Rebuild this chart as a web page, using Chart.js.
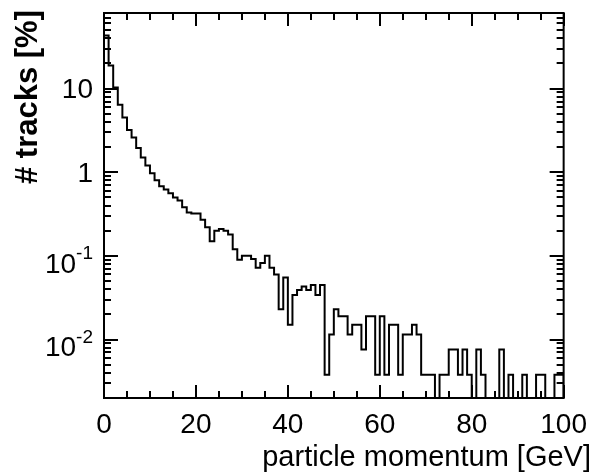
<!DOCTYPE html>
<html>
<head>
<meta charset="utf-8">
<script src="https://cdn.jsdelivr.net/npm/chart.js@4.4.1/dist/chart.umd.min.js"></script>
<style>
  html, body { margin: 0; padding: 0; background: #fff; }
</style>
</head>
<body>
<canvas id="histo" width="597" height="474"></canvas>
<script>
// momentum spectrum of tracks, 1 GeV bins, share of tracks in percent
const binLow = [
   0,  1,  2,  3,  4,  5,  6,  7,  8,  9, 10, 11, 12, 13, 14, 15, 16, 17, 18, 19,
  20, 21, 22, 23, 24, 25, 26, 27, 28, 29, 30, 31, 32, 33, 34, 35, 36, 37, 38, 39,
  40, 41, 42, 43, 44, 45, 46, 47, 48, 49, 50, 51, 52, 53, 54, 55, 56, 57, 58, 59,
  60, 61, 62, 63, 64, 65, 66, 67, 68, 69, 70, 71, 72, 73, 74, 75, 76, 77, 78, 79,
  80, 81, 82, 83, 84, 85, 86, 87, 88, 89, 90, 91, 92, 93, 94, 95, 96, 97, 98, 99
];
const lastEdge = 100;

const tracks = [
  43, 18.8, 10.3, 6.4, 4.5, 3.2, 2.6, 1.95, 1.5, 1.2,
  0.97, 0.8, 0.68, 0.62, 0.56, 0.5, 0.46, 0.38, 0.33, 0.32,
  0.32, 0.27, 0.22, 0.15, 0.2, 0.21, 0.2, 0.18, 0.12, 0.09,
  0.1, 0.1, 0.092, 0.072, 0.082, 0.1, 0.072, 0.06, 0.023, 0.055,
  0.015, 0.034, 0.039, 0.043, 0.039, 0.045, 0.034, 0.045, 0.0038, 0.0115,
  0.023, 0.019, 0.019, 0.0115, 0.015, 0.015, 0.0076, 0.019, 0.019, 0.0038,
  0.019, 0.0038, 0.015, 0.015, 0.0038, 0.0115, 0.0115, 0.015, 0.0115, 0.0038,
  0.0038, 0.0038, 0, 0.0038, 0.0038, 0.0076, 0.0076, 0.0038, 0.0076, 0.0038,
  0, 0.0076, 0.0038, 0, 0, 0, 0.0076, 0, 0.0038, 0,
  0, 0.0038, 0, 0, 0.0038, 0.0038, 0, 0, 0.0038, 0.0038
];

const xTicks = [0, 20, 40, 60, 80, 100];
const yTicks = [10, 1, 0.1, 0.01];
const yTickLabels = ['10', '1', '10^-1', '10^-2'];
const yMin = 0.002;
const yMax = 80;

const FONT = "'Liberation Sans', Arial, Helvetica, sans-serif";

// log axis can't take 0, so empty bins go below the frame and get clipped
const floorVal = yMin / 10;
const val = (v) => (v > 0 ? v : floorVal);

// histogram outline: start at bottom of first edge, hold each bin value until the next edge
const points = [{ x: binLow[0], y: floorVal }];
binLow.forEach((lo, i) => points.push({ x: lo, y: val(tracks[i]) }));
points.push({ x: lastEdge, y: val(tracks[tracks.length - 1]) });
points.push({ x: lastEdge, y: floorVal });

const frameAndLabels = {
  id: 'frameAndLabels',
  afterDatasetsDraw(chart) {
    const { ctx, chartArea: a, scales: { x, y } } = chart;
    ctx.save();
    ctx.strokeStyle = '#000';
    ctx.lineWidth = 2;
    ctx.beginPath();
    // x ticks, inside, bottom and top
    for (let v = x.min; v <= x.max; v += 5) {
      const px = Math.round(x.getPixelForValue(v));
      const len = v % 20 === 0 ? 13 : 7;
      ctx.moveTo(px, a.bottom); ctx.lineTo(px, a.bottom - len);
      ctx.moveTo(px, a.top); ctx.lineTo(px, a.top + len);
    }
    // y ticks, inside, left and right
    for (let d = -3; d <= 1; d++) {
      for (let m = 1; m <= 9; m++) {
        const v = m * Math.pow(10, d);
        if (v < y.min || v > y.max) continue;
        const py = Math.round(y.getPixelForValue(v));
        const len = m === 1 ? 14 : 7;
        ctx.moveTo(a.left, py); ctx.lineTo(a.left + len, py);
        ctx.moveTo(a.right, py); ctx.lineTo(a.right - len, py);
      }
    }
    ctx.stroke();
    ctx.strokeRect(a.left, a.top, a.right - a.left, a.bottom - a.top);

    // y tick labels with superscript exponents
    ctx.fillStyle = '#000';
    ctx.textAlign = 'right';
    ctx.textBaseline = 'middle';
    const right = a.left - 11;
    yTicks.forEach((v, i) => {
      const py = y.getPixelForValue(v);
      const parts = yTickLabels[i].split('^');
      if (parts.length === 1) {
        ctx.font = '28px ' + FONT;
        ctx.fillText(parts[0], right, py + 2);
      } else {
        ctx.font = '19px ' + FONT;
        const ew = ctx.measureText(parts[1]).width;
        ctx.fillText(parts[1], right, py - 2);
        ctx.font = '28px ' + FONT;
        ctx.fillText(parts[0], right - ew, py + 9);
      }
    });

    // axis titles
    ctx.font = '29px ' + FONT;
    ctx.textAlign = 'right';
    ctx.textBaseline = 'alphabetic';
    ctx.fillText('particle momentum [GeV]', 591, 466);

    ctx.save();
    ctx.translate(37, 10);
    ctx.rotate(-Math.PI / 2);
    ctx.font = 'bold 31px ' + FONT;
    ctx.fillText('# tracks [%]', 0, 0);
    ctx.restore();
    ctx.restore();
  }
};

new Chart(document.getElementById('histo').getContext('2d'), {
  type: 'line',
  data: {
    datasets: [{
      label: 'tracks',
      data: points,
      stepped: true,
      borderColor: '#000',
      borderWidth: 2,
      pointRadius: 0,
      fill: false
    }]
  },
  options: {
    responsive: false,
    animation: false,
    devicePixelRatio: 1,
    layout: { padding: { left: 104, right: 28, top: 13, bottom: 0 } },
    plugins: { legend: { display: false }, tooltip: { enabled: false } },
    scales: {
      x: {
        type: 'linear',
        min: 0,
        max: 100,
        grid: { display: false, drawTicks: false },
        border: { display: false },
        afterBuildTicks: (scale) => { scale.ticks = xTicks.map(v => ({ value: v })); },
        afterFit: (scale) => { scale.height = 76; },
        ticks: {
          padding: 10,
          maxRotation: 0,
          autoSkip: false,
          color: '#000',
          font: { family: FONT, size: 28 }
        }
      },
      y: {
        type: 'logarithmic',
        display: false,
        min: yMin,
        max: yMax
      }
    }
  },
  plugins: [frameAndLabels]
});
</script>
</body>
</html>
